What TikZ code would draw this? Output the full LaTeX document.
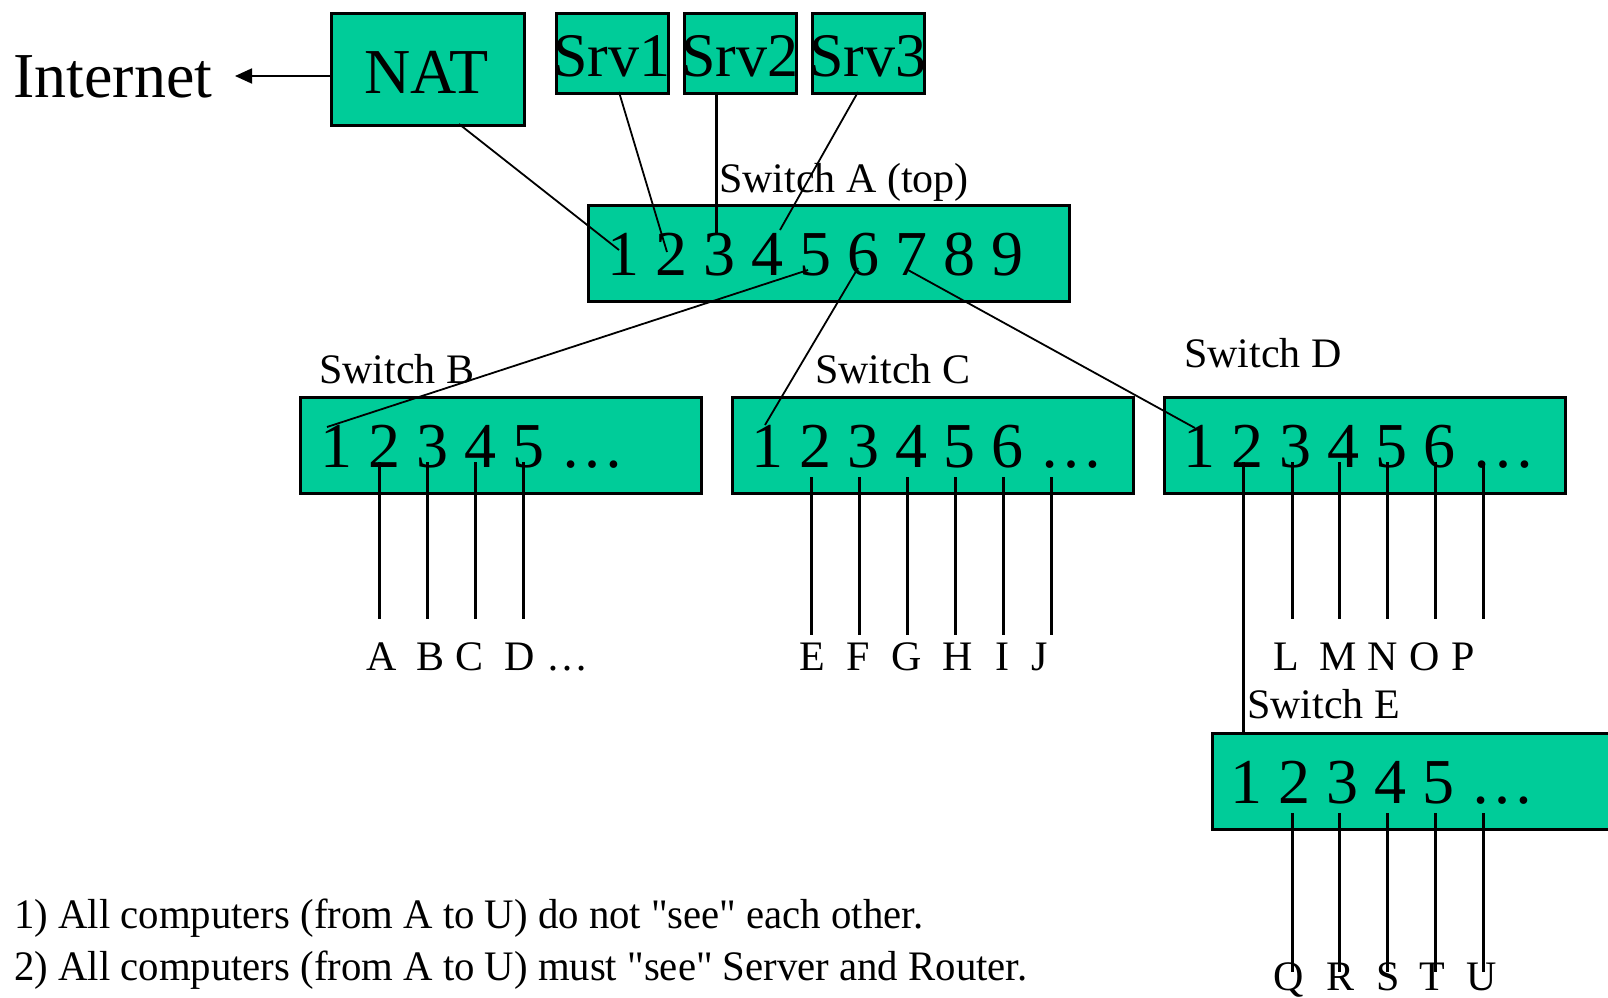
\documentclass[tikz,border=0pt]{standalone}
\usepackage{fontspec}
\setmainfont{Liberation Serif}
\usepackage{graphicx}
\usetikzlibrary{arrows.meta}
\definecolor{swgreen}{RGB}{0,204,153}
\tikzset{
  box/.style={draw=black, line width=2.6pt, fill=swgreen, inner sep=0pt, anchor=north west},
  big/.style={font=\fontsize{64}{70}\selectfont, inner sep=0pt, anchor=base west},
  srvtxt/.style={font=\fontsize{62}{68}\selectfont, inner sep=0pt, anchor=base west},
  lbl/.style={font=\fontsize{42}{48}\selectfont, inner sep=0pt, anchor=base west},
  wire/.style={line width=1.8pt},
  drop/.style={line width=3pt},
}
\newcommand{\dq}{\textquotedbl}
\begin{document}
\begin{tikzpicture}[x=1pt,y=-1pt]
\useasboundingbox (0,0) rectangle (1608,997);
\clip (0,0) rectangle (1608,997);

% ---------- boxes ----------
\node[box, minimum width=193pt, minimum height=112pt] (nat) at (330,12) {};
\node[box, minimum width=112pt, minimum height=80pt] (srv1) at (555,12) {};
\node[box, minimum width=112pt, minimum height=80pt] (srv2) at (683,12) {};
\node[box, minimum width=112pt, minimum height=80pt] (srv3) at (811,12) {};
\node[box, minimum width=481pt, minimum height=96pt] (swA) at (587,204) {};
\node[box, minimum width=401pt, minimum height=96pt] (swB) at (299,396) {};
\node[box, minimum width=401pt, minimum height=96pt] (swC) at (731,396) {};
\node[box, minimum width=401pt, minimum height=96pt] (swD) at (1163,396) {};
\node[box, minimum width=430pt, minimum height=96pt] (swE) at (1211,732) {};

% ---------- big texts ----------
\node[big] (inet) at (13,97) {Internet};
\node[big] (nattxt) at (364,93) {NAT};
\node[srvtxt] (srv1txt) at (553,76) {Srv1};
\node[srvtxt] (srv2txt) at (681,76) {Srv2};
\node[srvtxt] (srv3txt) at (809,76) {Srv3};
\node[big] (portsA) at (607,275) {1 2 3 4 5 6 7 8 9};
\node[big] (portsB) at (320,467) {1 2 3 4 5 \ldots};
\node[big] (portsC) at (751,467) {1 2 3 4 5 6 \ldots};
\node[big] (portsD) at (1183,467) {1 2 3 4 5 6 \ldots};
\node[big] (portsE) at (1230,803) {1 2 3 4 5 \ldots};

% ---------- switch captions ----------
\node[lbl] (capA) at (719,192) {Switch A (top)};
\node[lbl] (capB) at (319,383) {Switch B};
\node[lbl] (capC) at (815,383) {Switch C};
\node[lbl] (capD) at (1184,367) {Switch D};
\node[lbl] (capE) at (1247,718) {Switch E};

% ---------- computer labels ----------
\node[lbl] (pcA) at (366,670) {A};
\node[lbl] (pcB) at (416,670) {B};
\node[lbl] (pcC) at (455,670) {C};
\node[lbl] (pcD) at (504,670) {D};
\node[lbl] (moreB) at (546,670) {\ldots};
\node[lbl] (pcE) at (799,670) {E};
\node[lbl] (pcF) at (846,670) {F};
\node[lbl] (pcG) at (891,670) {G};
\node[lbl] (pcH) at (942,670) {H};
\node[lbl] (pcI) at (995,670) {I};
\node[lbl] (pcJ) at (1031,670) {J};
\node[lbl] (pcL) at (1273,670) {L};
\node[lbl] (pcM) at (1319,670) {M};
\node[lbl] (pcN) at (1367,670) {N};
\node[lbl] (pcO) at (1409,670) {O};
\node[lbl] (pcP) at (1451,670) {P};
\node[lbl] (pcQ) at (1273,990) {Q};
\node[lbl] (pcR) at (1326,990) {R};
\node[lbl] (pcS) at (1376,990) {S};
\node[lbl] (pcT) at (1419,990) {T};
\node[lbl] (pcU) at (1466,990) {U};

% ---------- notes ----------
\node[lbl] (note1) at (14,928) {\scalebox{0.97}[1]{1) All computers (from A to U) do not \dq see\dq{} each other.}};
\node[lbl] (note2) at (14,980) {\scalebox{0.97}[1]{2) All computers (from A to U) must \dq see\dq{} Server and Router.}};

% ---------- attachment points ----------
\coordinate (natW) at (330,76);
\coordinate (inetTip) at (235,76);
\coordinate (natS) at (459,124);
\coordinate (s1S) at (619,92);
\coordinate (s2S) at (716,92);
\coordinate (s3S) at (858,92);
\coordinate (a1) at (619,250);
\coordinate (a2) at (667,252);
\coordinate (a3) at (716,233);
\coordinate (a4) at (780,230);
\coordinate (a5) at (808,270);
\coordinate (a6) at (858,268);
\coordinate (a7) at (908,270);
\coordinate (b1) at (327,427);
\coordinate (c1) at (765,425);
\coordinate (d1) at (1195,428);
\coordinate (d2) at (1243,462);
\coordinate (e1) at (1243,732);

% ---------- uplinks ----------
\draw[wire, -{Triangle[length=17pt,width=15pt]}] (natW) -- (inetTip);
\draw[wire] (natS) -- (a1);
\draw[wire] (s1S) -- (a2);
\draw[drop] (s2S) -- (a3);
\draw[wire] (s3S) -- (a4);
\draw[wire] (a5) -- (b1);
\draw[wire] (a6) -- (c1);
\draw[wire] (a7) -- (d1);
\draw[drop] (d2) -- (e1);

% ---------- drops to computers ----------
\foreach \x in {379,427,475,523} {
  \coordinate (bt) at (\x,462); \coordinate (bb) at (\x,619);
  \draw[drop] (bt) -- (bb);
}
\foreach \x in {811,859,907,955,1003,1051} {
  \coordinate (ct) at (\x,477); \coordinate (cb) at (\x,635);
  \draw[drop] (ct) -- (cb);
}
\foreach \x in {1292,1339,1387,1435,1483} {
  \coordinate (dt) at (\x,462); \coordinate (db) at (\x,619);
  \draw[drop] (dt) -- (db);
  \coordinate (et) at (\x,813); \coordinate (eb) at (\x,972);
  \draw[drop] (et) -- (eb);
}
\end{tikzpicture}
\end{document}
